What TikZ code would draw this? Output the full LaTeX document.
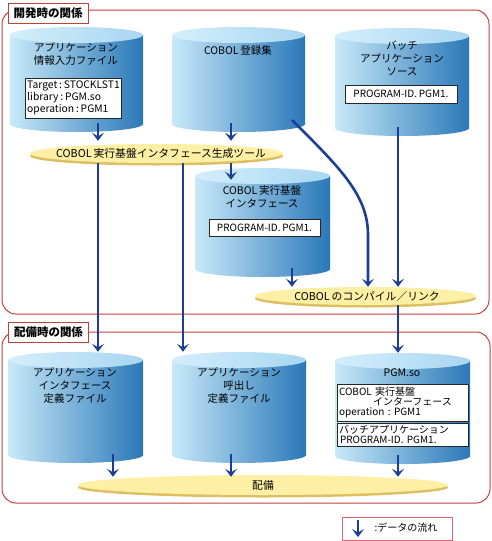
\documentclass[tikz,border=0pt]{standalone}
\usepackage{fontspec}
\setmainfont[WordSpace=0.8]{Noto Sans CJK JP}
\frenchspacing
\usetikzlibrary{arrows.meta,positioning,shapes.geometric,shadows}

\definecolor{flowblue}{RGB}{28,62,150}
\definecolor{cylL}{RGB}{200,233,249}
\definecolor{cylM}{RGB}{128,182,222}
\definecolor{cylR}{RGB}{42,120,184}
\definecolor{topL}{RGB}{212,238,251}
\definecolor{topR}{RGB}{168,214,241}
\definecolor{panelred}{RGB}{196,64,58}
\definecolor{tooly}{RGB}{253,239,164}
\definecolor{toolshadow}{RGB}{222,190,100}
\definecolor{legendred}{RGB}{228,96,112}

% cylinder: name, left, right, top, bottom
\newcommand{\datacyl}[5]{%
  \pgfmathsetmacro{\cylcx}{(#2+#3)/2}
  \pgfmathsetmacro{\cylrx}{(#3-#2)/2}
  \path[cylbody] (#2,#4+8) rectangle (#3,#5-8);
  \path[cylbody] (\cylcx,#5-8) ellipse [x radius=\cylrx, y radius=8];
  \path[cyltop] (\cylcx,#4+8) ellipse [x radius=\cylrx, y radius=8];
  \node[inner sep=0pt, minimum width=#3-#2, minimum height=#5-#4-9] (#1) at (\cylcx,{(#4+#5-9)/2}) {};
}

\begin{document}
\begin{tikzpicture}[x=1pt,y=-1pt]
\tikzstyle{panel}=[draw=panelred, line width=1pt, rounded corners=14pt]
\tikzstyle{paneltag}=[draw=panelred, line width=1pt, fill=white, inner sep=0pt, minimum width=80pt, minimum height=20pt, font=\bfseries\fontsize{11.5}{13}\selectfont]
\tikzstyle{cylbody}=[left color=cylL, middle color=cylM, right color=cylR]
\tikzstyle{cyltop}=[left color=topL, right color=topR]
\tikzstyle{cyltext}=[align=center, inner sep=0pt, font=\fontsize{10.5}{13}\selectfont]
\tikzstyle{databox}=[draw=black!85, line width=1pt, fill=white, inner sep=2pt, font=\fontsize{10}{11.5}\selectfont]
\tikzstyle{tool}=[ellipse, fill=tooly, inner sep=0pt, drop shadow={shadow xshift=0pt, shadow yshift=-2.5pt, fill=toolshadow, opacity=1}]
\tikzstyle{tooltext}=[font=\fontsize{10.8}{13}\selectfont]
\tikzstyle{flow}=[draw=flowblue, line width=2.6pt, -{Stealth[length=8pt,width=12pt,inset=3.5pt]}]

\useasboundingbox (0,0) rectangle (492,541);

% panels
\draw[panel] (2,10) rectangle (489,314);
\draw[panel] (2,332) rectangle (490,503);
\node[paneltag] (devtag) at (48,13) {開発時の関係};
\node[paneltag] (deptag) at (48.5,332) {配備時の関係};

% columns of the flow lines
\coordinate (colA) at (98,0);
\coordinate (colB) at (183,0);
\coordinate (colG) at (231,0);
\coordinate (colE) at (292,0);
\coordinate (colC) at (368,0);
\coordinate (colD) at (398,0);
\coordinate (colF) at (113,0);

% development
\datacyl{appinfo}{10}{143}{27}{132}
\datacyl{copylib}{172}{305}{27}{132}
\datacyl{batchsrc}{335}{469}{28}{136}
\datacyl{cobif}{195}{330}{168}{277}

\node[cyltext] (appinfotext) at (76,54) {アプリケーション\\情報入力ファイル};
\node[databox, minimum width=93pt, minimum height=40pt, align=left, font=\fontsize{10.3}{12}\selectfont] (infobox) at (73.5,98)
  {Target : STOCKLST1\\library : PGM.so\\operation : PGM1};
\node[cyltext] (copylibtext) at (238,50) {COBOL 登録集};
\node[cyltext] (batchtext) at (402,58) {バッチ\\アプリケーション\\ソース};
\node[databox, minimum width=112pt, minimum height=18pt] (batchbox) at (401,94) {PROGRAM-ID. PGM1.};
\node[cyltext] (cobiftext) at (262,197) {COBOL 実行基盤\\インタフェース};
\node[databox, minimum width=111pt, minimum height=17pt] (cobifbox) at (264.5,227.5) {PROGRAM-ID. PGM1.};

\node[tool, minimum width=253pt, minimum height=19pt] (gen) at (156.5,153.5) {};
\node[tooltext] (gentext) at (161,153) {COBOL 実行基盤インタフェース生成ツール};
\node[tool, minimum width=221pt, minimum height=18pt] (compile) at (365.5,296) {};
\node[tooltext] (compiletext) at (367,296) {COBOL のコンパイル／リンク};

% deployment
\datacyl{appifdef}{8}{143}{352}{463}
\datacyl{appcall}{172}{306}{352}{463}
\datacyl{pgmso}{335}{470}{353}{464}

\node[cyltext] (appifdeftext) at (75,386) {アプリケーション\\インタフェース\\定義ファイル};
\node[cyltext] (appcalltext) at (239,386) {アプリケーション\\呼出し\\定義ファイル};
\node[cyltext] (pgmsotext) at (402,373) {PGM.so};
\node[databox, text width=127pt, minimum height=37pt, align=left, font=\fontsize{10}{10}\selectfont] (pgmbox1) at (402.5,402.5)
  {COBOL 実行基盤\\\hspace*{34pt}インターフェース\\operation : PGM1};
\node[databox, text width=127pt, minimum height=23pt, align=left, font=\fontsize{10}{10}\selectfont] (pgmbox2) at (402.5,434.5)
  {バッチアプリケーション\\\hspace*{1pt}PROGRAM-ID. PGM1.};

\node[tool, minimum width=370pt, minimum height=20pt] (deploy) at (263,485) {};
\node[tooltext] (deploytext) at (263,485) {配備};

% data flow
\draw[flow] (appinfo.south -| colA) -- ([yshift=3pt]gen.north -| colA);
\draw[flow] (copylib.south -| colG) -- ([yshift=3pt]gen.north -| colG);
\draw[flow] (gen.south -| colG) -- ([yshift=-12pt]cobif.north -| colG);
\draw[flow] (cobif.south -| colE) -- (compile.north -| colE);
\coordinate (libout) at (292,120);
\draw[flow] (libout) .. controls (340,168) and (368,195) .. (368,235) -- (compile.north -| colC);
\draw[flow] (batchsrc.south -| colD) -- (compile.north -| colD);
\draw[flow] (compile.south -| colD) -- (pgmso.north -| colD);
\draw[flow] (gen.south -| colA) -- (appifdef.north -| colA);
\draw[flow] (gen.south -| colB) -- (appcall.north -| colB);
\draw[flow] (appifdef.south -| colF) -- ([yshift=-2pt]deploy.north -| colF);
\draw[flow] (appcall.south -| colG) -- ([yshift=-2pt]deploy.north -| colG);
\draw[flow] (pgmso.south -| colD) -- ([yshift=-2pt]deploy.north -| colD);

% legend
\node[draw=legendred, line width=1pt, minimum width=110pt, minimum height=23pt] (legend) at (397,528.5) {};
\coordinate (legtop) at (358,520);
\coordinate (legbot) at (358,537);
\draw[flow] (legtop) -- (legbot);
\node[font=\fontsize{10}{12}\selectfont, anchor=west] (legtext) at (371,528) {:データの流れ};
\end{tikzpicture}
\end{document}
